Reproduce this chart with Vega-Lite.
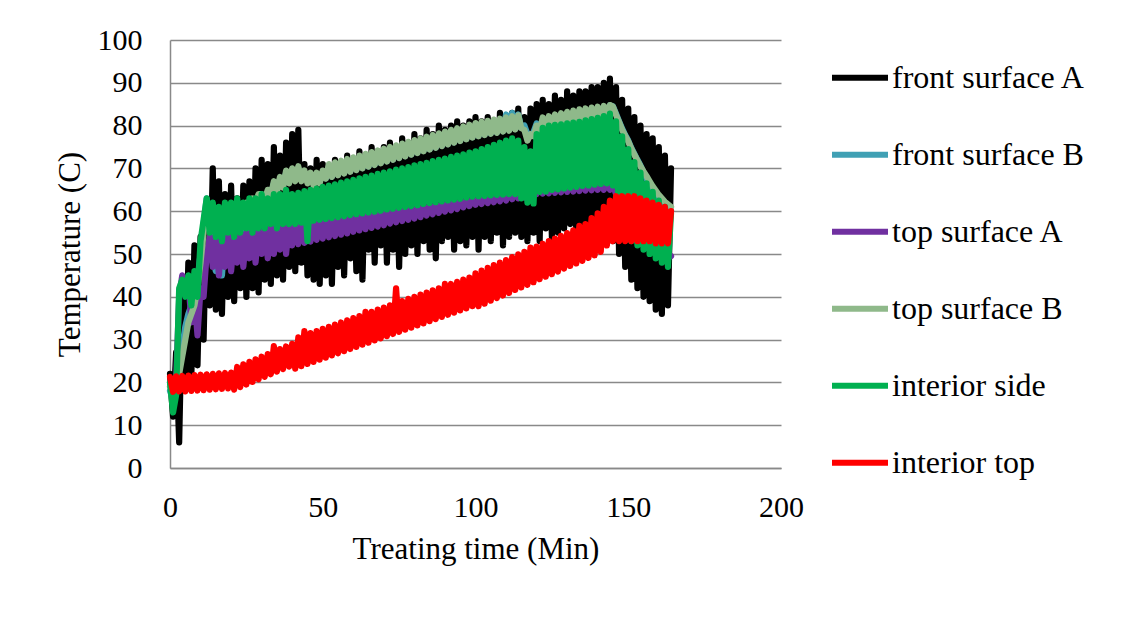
{
"$schema":"https://vega.github.io/schema/vega-lite/v6.json",
"width":611,"height":428,
"autosize":{"type":"none"},
"padding":{"left":170,"top":40,"right":362,"bottom":150},
"background":"white",
"data":{"values":[
{"t":0,"A":22,"B":18,"C":20,"D":19,"E":20,"F":21.3},
{"t":1,"A":12,"B":16,"C":18,"D":20,"E":13,"F":17.8},
{"t":2,"A":27,"B":20,"C":20,"D":19,"E":17,"F":21.4},
{"t":3,"A":6,"B":24,"C":40,"D":22,"E":42,"F":17.9},
{"t":4,"A":40,"B":28,"C":45,"D":26,"E":44,"F":21.5},
{"t":5,"A":20,"B":33,"C":43,"D":30,"E":40,"F":17.9},
{"t":6,"A":48,"B":36,"C":44,"D":34,"E":45,"F":21.6},
{"t":7,"A":22,"B":38,"C":34,"D":36,"E":38,"F":18},
{"t":8,"A":52,"B":41,"C":40,"D":38,"E":46,"F":21.7},
{"t":9,"A":24,"B":44,"C":31,"D":42,"E":40,"F":18.1},
{"t":10,"A":54,"B":50,"C":42,"D":48,"E":53,"F":21.8},
{"t":11,"A":30,"B":57,"C":40,"D":55,"E":58,"F":18.2},
{"t":12,"A":62,"B":63,"C":50,"D":61,"E":63,"F":21.9},
{"t":13,"A":38,"B":57,"C":54,"D":60,"E":55,"F":18.3},
{"t":14,"A":70,"B":49,"C":47,"D":57,"E":62,"F":22},
{"t":15,"A":37,"B":46,"C":55,"D":58,"E":54,"F":18.4},
{"t":16,"A":67,"B":53,"C":45,"D":56,"E":61,"F":22.1},
{"t":17,"A":36,"B":45,"C":54,"D":58,"E":53,"F":18.5},
{"t":18,"A":64,"B":54,"C":47,"D":57,"E":62,"F":22.2},
{"t":19,"A":40,"B":48,"C":55,"D":59,"E":55,"F":18.6},
{"t":20,"A":66,"B":55,"C":46,"D":58,"E":62,"F":22.3},
{"t":21,"A":39,"B":50,"C":54,"D":60,"E":54,"F":18.3},
{"t":22,"A":63,"B":57,"C":48,"D":59,"E":63,"F":23.6},
{"t":23,"A":42,"B":52,"C":55,"D":61,"E":55,"F":18.9},
{"t":24,"A":66,"B":58,"C":47,"D":60,"E":62,"F":24.2},
{"t":25,"A":40,"B":52,"C":55,"D":62,"E":56,"F":19.5},
{"t":26,"A":67,"B":59,"C":49,"D":61,"E":63,"F":24.8},
{"t":27,"A":42,"B":53,"C":56,"D":63,"E":55,"F":20.1},
{"t":28,"A":70,"B":60,"C":48,"D":62,"E":63,"F":25.4},
{"t":29,"A":41,"B":54,"C":56,"D":64,"E":56,"F":20.7},
{"t":30,"A":72,"B":63.5,"C":50,"D":64,"E":64,"F":26},
{"t":31,"A":44,"B":63,"C":56,"D":62.5,"E":56,"F":21.3},
{"t":32,"A":71,"B":64.5,"C":49,"D":65,"E":63,"F":26.6},
{"t":33,"A":43,"B":64,"C":57,"D":63.5,"E":57,"F":21.9},
{"t":34,"A":75,"B":66.5,"C":50,"D":67,"E":64,"F":28.5},
{"t":35,"A":45,"B":65,"C":56,"D":64.5,"E":56,"F":22.5},
{"t":36,"A":73,"B":67.5,"C":51,"D":68,"E":64,"F":27.8},
{"t":37,"A":44,"B":66,"C":57,"D":65.5,"E":57,"F":23.1},
{"t":38,"A":76,"B":69,"C":50,"D":69.5,"E":65,"F":28.4},
{"t":39,"A":47,"B":67,"C":57,"D":66.5,"E":57,"F":23.7},
{"t":40,"A":78,"B":69.5,"C":52,"D":70,"E":64,"F":29},
{"t":41,"A":46,"B":67.5,"C":57.1,"D":67,"E":57,"F":23.2},
{"t":42,"A":79,"B":70,"C":52.3,"D":70.5,"E":64.3,"F":30.5},
{"t":43,"A":48,"B":67.5,"C":57.3,"D":67,"E":57.3,"F":23.8},
{"t":44,"A":71,"B":69,"C":52.6,"D":69.5,"E":64.7,"F":32},
{"t":45,"A":45,"B":67,"C":57.5,"D":66.5,"E":53,"F":24.3},
{"t":46,"A":70,"B":68.5,"C":52.9,"D":69,"E":65,"F":31.5},
{"t":47,"A":44,"B":66.5,"C":57.7,"D":66,"E":57.8,"F":24.8},
{"t":48,"A":72,"B":68.5,"C":53.3,"D":69,"E":65.3,"F":32},
{"t":49,"A":43,"B":67,"C":57.9,"D":66.5,"E":58,"F":25.3},
{"t":50,"A":71,"B":69,"C":53.6,"D":69.5,"E":65.7,"F":32.5},
{"t":51,"A":45,"B":67.7,"C":58.1,"D":67.6,"E":58.2,"F":25.8},
{"t":52,"A":70,"B":70.5,"C":53.9,"D":71,"E":66,"F":33},
{"t":53,"A":43,"B":68.1,"C":58.3,"D":68,"E":58.4,"F":26.3},
{"t":54,"A":72,"B":70.9,"C":54.2,"D":71.4,"E":66.3,"F":33.5},
{"t":55,"A":47,"B":68.5,"C":58.5,"D":68.4,"E":58.6,"F":26.8},
{"t":56,"A":71,"B":71.3,"C":54.5,"D":71.8,"E":66.7,"F":34},
{"t":57,"A":45,"B":68.9,"C":58.7,"D":68.8,"E":58.8,"F":27.3},
{"t":58,"A":73,"B":71.7,"C":54.8,"D":72.2,"E":67,"F":34.5},
{"t":59,"A":49,"B":69.3,"C":58.9,"D":69.2,"E":59.1,"F":27.8},
{"t":60,"A":72,"B":72.1,"C":55.2,"D":72.6,"E":67.3,"F":35},
{"t":61,"A":46,"B":69.7,"C":59.1,"D":69.6,"E":59.3,"F":28.3},
{"t":62,"A":74,"B":72.5,"C":55.5,"D":73,"E":67.7,"F":35.5},
{"t":63,"A":44,"B":70.1,"C":59.3,"D":70,"E":59.5,"F":28.8},
{"t":64,"A":73,"B":72.9,"C":55.8,"D":73.4,"E":68,"F":36.5},
{"t":65,"A":51,"B":70.5,"C":59.5,"D":70.4,"E":59.7,"F":29.3},
{"t":66,"A":75,"B":73.3,"C":56.1,"D":73.8,"E":68.3,"F":36.5},
{"t":67,"A":48,"B":70.9,"C":59.7,"D":70.8,"E":59.9,"F":29.8},
{"t":68,"A":74,"B":73.7,"C":56.4,"D":74.2,"E":68.7,"F":37},
{"t":69,"A":52,"B":71.3,"C":59.9,"D":71.2,"E":60.1,"F":30.3},
{"t":70,"A":75,"B":74.1,"C":56.7,"D":74.6,"E":69,"F":37.5},
{"t":71,"A":48,"B":71.7,"C":60.1,"D":71.6,"E":60.4,"F":30.8},
{"t":72,"A":76,"B":74.5,"C":57.1,"D":75,"E":69.3,"F":38},
{"t":73,"A":51,"B":72.1,"C":60.3,"D":72,"E":60.6,"F":31.3},
{"t":74,"A":75,"B":74.9,"C":57.4,"D":75.4,"E":69.7,"F":42},
{"t":75,"A":47,"B":72.5,"C":60.5,"D":72.4,"E":60.8,"F":31.8},
{"t":76,"A":77,"B":75.3,"C":57.7,"D":75.8,"E":70,"F":39},
{"t":77,"A":50,"B":72.9,"C":60.7,"D":72.8,"E":61,"F":32.3},
{"t":78,"A":76,"B":75.7,"C":58,"D":76.2,"E":70.3,"F":39.5},
{"t":79,"A":52,"B":73.3,"C":60.9,"D":73.2,"E":61.2,"F":32.8},
{"t":80,"A":78,"B":76.1,"C":58.3,"D":76.6,"E":70.7,"F":40},
{"t":81,"A":50,"B":73.7,"C":61.1,"D":73.6,"E":61.4,"F":33.3},
{"t":82,"A":77,"B":76.5,"C":58.6,"D":77,"E":71,"F":40.5},
{"t":83,"A":53,"B":74.1,"C":61.3,"D":74,"E":61.7,"F":33.8},
{"t":84,"A":79,"B":76.9,"C":59,"D":77.4,"E":71.3,"F":41},
{"t":85,"A":51,"B":74.5,"C":61.5,"D":74.4,"E":61.9,"F":34.3},
{"t":86,"A":78,"B":77.3,"C":59.3,"D":77.8,"E":71.7,"F":41.5},
{"t":87,"A":49,"B":74.9,"C":61.7,"D":74.8,"E":62.1,"F":34.8},
{"t":88,"A":80,"B":77.7,"C":59.6,"D":78.2,"E":72,"F":42},
{"t":89,"A":53,"B":75.3,"C":61.9,"D":75.2,"E":62.3,"F":35.3},
{"t":90,"A":79,"B":78.1,"C":59.9,"D":78.6,"E":72.3,"F":43},
{"t":91,"A":54,"B":75.7,"C":62.1,"D":75.6,"E":62.5,"F":35.8},
{"t":92,"A":80,"B":78.5,"C":60.2,"D":79,"E":72.7,"F":43},
{"t":93,"A":51,"B":76.1,"C":62.3,"D":76,"E":62.7,"F":36.3},
{"t":94,"A":81,"B":78.9,"C":60.5,"D":79.4,"E":73,"F":43.5},
{"t":95,"A":53,"B":76.5,"C":62.5,"D":76.4,"E":62.9,"F":36.8},
{"t":96,"A":80,"B":79.3,"C":60.9,"D":79.8,"E":73.3,"F":44},
{"t":97,"A":52,"B":76.9,"C":62.7,"D":76.8,"E":63.2,"F":37.3},
{"t":98,"A":81,"B":79.7,"C":61.2,"D":80.2,"E":73.7,"F":44.5},
{"t":99,"A":54,"B":77.3,"C":62.9,"D":77.2,"E":63.4,"F":37.8},
{"t":100,"A":82,"B":80.1,"C":61.5,"D":80.6,"E":74,"F":45.5},
{"t":101,"A":51,"B":77.6,"C":63.2,"D":77.5,"E":63.5,"F":37.8},
{"t":102,"A":81,"B":80.4,"C":61.7,"D":80.9,"E":74.5,"F":46.1},
{"t":103,"A":54,"B":77.9,"C":63.5,"D":77.8,"E":63.6,"F":38.4},
{"t":104,"A":82,"B":80.6,"C":61.9,"D":81.1,"E":75,"F":46.75},
{"t":105,"A":53,"B":78.2,"C":63.8,"D":78.1,"E":63.7,"F":39.1},
{"t":106,"A":81,"B":80.9,"C":62.1,"D":81.4,"E":75.5,"F":47.4},
{"t":107,"A":55,"B":78.4,"C":64.1,"D":78.3,"E":63.8,"F":39.7},
{"t":108,"A":83,"B":81.1,"C":62.3,"D":81.6,"E":76,"F":48},
{"t":109,"A":52,"B":78.7,"C":64.4,"D":78.6,"E":63.9,"F":40.3},
{"t":110,"A":82,"B":82.6,"C":62.5,"D":81.9,"E":76.5,"F":48.6},
{"t":111,"A":54,"B":79,"C":64.7,"D":78.8,"E":64,"F":40.9},
{"t":112,"A":83,"B":83,"C":62.8,"D":82.2,"E":77,"F":49.25},
{"t":113,"A":55,"B":79.2,"C":65,"D":79.1,"E":64,"F":41.6},
{"t":114,"A":84,"B":82.6,"C":63,"D":82.4,"E":76.5,"F":49.9},
{"t":115,"A":54,"B":79.5,"C":65.3,"D":79.4,"E":63,"F":42.2},
{"t":116,"A":82,"B":80,"C":63.2,"D":79,"E":75,"F":50.5},
{"t":117,"A":53,"B":78,"C":65.6,"D":76.5,"E":62,"F":42.8},
{"t":118,"A":84,"B":77.5,"C":63.5,"D":78,"E":74,"F":51.5},
{"t":119,"A":55,"B":78.5,"C":65.9,"D":77.5,"E":61.8,"F":43.4},
{"t":120,"A":85,"B":80.5,"C":64,"D":80,"E":78,"F":51.75},
{"t":121,"A":53,"B":78.7,"C":66.1,"D":78.6,"E":64.5,"F":44.1},
{"t":122,"A":86,"B":81.4,"C":64.1,"D":81.9,"E":79.5,"F":52.4},
{"t":123,"A":56,"B":79,"C":66.3,"D":78.9,"E":64.6,"F":44.7},
{"t":124,"A":85,"B":81.7,"C":64.2,"D":82.2,"E":80,"F":53},
{"t":125,"A":54,"B":79.3,"C":66.5,"D":79.2,"E":65,"F":45.3},
{"t":126,"A":87,"B":82.1,"C":64.3,"D":82.6,"E":80.2,"F":53.6},
{"t":127,"A":55,"B":79.6,"C":66.8,"D":79.5,"E":65.1,"F":45.9},
{"t":128,"A":86,"B":82.4,"C":64.4,"D":82.9,"E":80.3,"F":54.25},
{"t":129,"A":56,"B":79.9,"C":67,"D":79.8,"E":65.3,"F":46.6},
{"t":130,"A":88,"B":82.7,"C":64.5,"D":83.2,"E":80.5,"F":54.9},
{"t":131,"A":57,"B":80.3,"C":67.3,"D":80.2,"E":65.5,"F":47.2},
{"t":132,"A":87,"B":83,"C":64.6,"D":83.5,"E":80.7,"F":55.5},
{"t":133,"A":55,"B":80.6,"C":67.6,"D":80.5,"E":65.7,"F":47.8},
{"t":134,"A":88,"B":83.3,"C":64.7,"D":83.8,"E":80.9,"F":56.6},
{"t":135,"A":56,"B":80.9,"C":68,"D":80.8,"E":65.9,"F":48.4},
{"t":136,"A":88,"B":83.6,"C":64.8,"D":84,"E":81.2,"F":57},
{"t":137,"A":57,"B":81.2,"C":67.8,"D":81.1,"E":66,"F":49.1},
{"t":138,"A":89,"B":83.9,"C":64.9,"D":84.2,"E":81.5,"F":58.4},
{"t":139,"A":56,"B":81.5,"C":67.5,"D":81.4,"E":66.2,"F":49.7},
{"t":140,"A":89,"B":84.1,"C":65,"D":84.4,"E":81.8,"F":59.5},
{"t":141,"A":57,"B":81.9,"C":67.3,"D":81.8,"E":66.4,"F":50.5},
{"t":142,"A":90,"B":84.4,"C":65,"D":84.6,"E":82.2,"F":61},
{"t":143,"A":55,"B":82.2,"C":67,"D":82.1,"E":66.5,"F":52},
{"t":144,"A":91,"B":84.7,"C":65,"D":84.8,"E":82.8,"F":62.5},
{"t":145,"A":53,"B":84.5,"C":66,"D":84.4,"E":66,"F":53},
{"t":146,"A":89,"B":82.8,"C":64,"D":82.5,"E":81,"F":63.5},
{"t":147,"A":50,"B":81,"C":61,"D":80.8,"E":57,"F":53},
{"t":148,"A":86,"B":79.3,"C":59.5,"D":79,"E":77.5,"F":63.5},
{"t":149,"A":47,"B":77.8,"C":58,"D":77.6,"E":55,"F":53},
{"t":150,"A":84,"B":76.5,"C":57,"D":76.3,"E":74.5,"F":63.5},
{"t":151,"A":44,"B":74.8,"C":56,"D":74.6,"E":53,"F":53},
{"t":152,"A":82,"B":73.4,"C":55,"D":73.2,"E":71.5,"F":63.5},
{"t":153,"A":42,"B":72,"C":54.5,"D":71.8,"E":52,"F":53},
{"t":154,"A":80,"B":70.7,"C":54,"D":70.5,"E":69,"F":63},
{"t":155,"A":40,"B":69,"C":53.5,"D":69.3,"E":51,"F":53},
{"t":156,"A":78,"B":67.6,"C":53,"D":68.2,"E":66.5,"F":62.5},
{"t":157,"A":39,"B":66.3,"C":52.5,"D":67,"E":50,"F":53},
{"t":158,"A":77,"B":65,"C":52,"D":65.8,"E":64.5,"F":62},
{"t":159,"A":37,"B":64,"C":51.5,"D":64.8,"E":49,"F":52.5},
{"t":160,"A":75,"B":63,"C":51,"D":63.8,"E":62.5,"F":61.5},
{"t":161,"A":36,"B":62,"C":50.5,"D":63,"E":48,"F":52.5},
{"t":162,"A":73,"B":61.2,"C":50,"D":62.2,"E":61,"F":61},
{"t":163,"A":38,"B":60.6,"C":50,"D":61.6,"E":47,"F":52.5},
{"t":164,"A":70,"B":60,"C":49.5,"D":61,"E":59.5,"F":60}
]},
"transform":[{"fold":["A","B","C","D","E","F"],"as":["series","temp"]}],
"mark":{"type":"line","strokeWidth":6.2,"strokeCap":"round","strokeJoin":"round"},
"encoding":{
"x":{"field":"t","type":"quantitative","scale":{"domain":[0,200],"nice":false,"zero":false},
"axis":{"values":[0,50,100,150,200],"title":"Treating time (Min)","grid":false,"domain":true,"labelFlush":false,"labelPadding":24,"titleX":305.5,"titleY":90,"titleBaseline":"alphabetic","titleAlign":"center"}},
"y":{"field":"temp","type":"quantitative","scale":{"domain":[0,100],"nice":false},
"axis":{"values":[0,10,20,30,40,50,60,70,80,90,100],"title":"Temperature (C)","grid":true,"labelPadding":28,"titleAngle":-90,"titleX":-100,"titleY":214,"titleBaseline":"middle","titleAlign":"center"}},
"color":{"field":"series","type":"nominal","sort":["A","B","C","D","E","F"],
"scale":{"domain":["A","B","C","D","E","F"],"range":["#000000","#40A0B4","#7030A0","#8FB98A","#00B050","#FF0000"]},
"legend":{"title":null,"orient":"none","legendX":659,"legendY":6.7,"symbolType":"stroke","symbolSize":3136,"symbolStrokeWidth":6,"labelFontSize":32,"labelFont":"Liberation Serif","labelColor":"#000000","labelOffset":1,"rowPadding":30,"padding":0,"labelLimit":400,
"labelExpr":"datum.label == 'A' ? 'front surface A' : datum.label == 'B' ? 'front surface B' : datum.label == 'C' ? 'top surface A' : datum.label == 'D' ? 'top surface B' : datum.label == 'E' ? 'interior side' : 'interior top'"}}
},
"config":{
"font":"Liberation Serif",
"view":{"stroke":null},
"axis":{"labelFont":"Liberation Serif","titleFont":"Liberation Serif","labelColor":"#000000","titleColor":"#000000","titleFontWeight":"normal","ticks":false,"tickSize":0,"domainColor":"#898989","gridColor":"#898989","domainWidth":1.5,"gridWidth":1.5,"labelFontSize":30,"titleFontSize":31}
}
}
